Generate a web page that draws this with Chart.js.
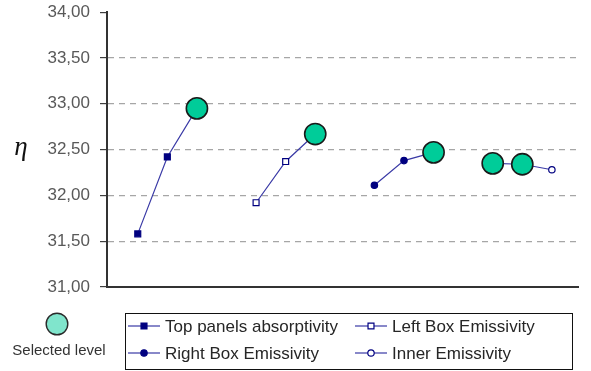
<!DOCTYPE html>
<html>
<head>
<meta charset="utf-8">
<script src="https://cdn.jsdelivr.net/npm/chart.js@4/dist/chart.umd.min.js"></script>
<style>
  html, body { margin: 0; padding: 0; background: #fff; }
  #wrap { position: relative; width: 591px; height: 371px; }
</style>
</head>
<body>
<div id="wrap"><canvas id="c" width="591" height="371"></canvas></div>
<script>
// Efficiency (eta) for three levels of each factor
const seriesNames = ['Top panels absorptivity', 'Left Box Emissivity', 'Right Box Emissivity', 'Inner Emissivity'];
const topPanels = [31.58, 32.42, 32.95];
const leftBox   = [31.92, 32.37, 32.67];
const rightBox  = [32.11, 32.38, 32.47];
const inner     = [32.35, 32.34, 32.28];

// which level of each factor is the selected one
const topPanelsSel = [false, false, true];
const leftBoxSel   = [false, false, true];
const rightBoxSel  = [false, false, true];
const innerSel     = [true, true, false];

const yTicks = [31.0, 31.5, 32.0, 32.5, 33.0, 33.5, 34.0];
const selectedLabel = 'Selected level';
const axisSymbol = 'η';

const seriesValues = [topPanels, leftBox, rightBox, inner];
const seriesSel = [topPanelsSel, leftBoxSel, rightBoxSel, innerSel];

const NAVY = '#000080';
const LINE = '#3a3aa6';
const GREEN = '#00cc99';
const markerStyles = [
  { shape: 'rect',   fill: NAVY,   r: 4.2 },
  { shape: 'rect',   fill: '#fff', r: 4.2 },
  { shape: 'circle', fill: NAVY,   r: 3.2 },
  { shape: 'circle', fill: '#fff', r: 3.2 }
];

// each factor gets its own group of three slots, with one empty slot between groups
const levelsPerGroup = 3;
const datasets = seriesValues.map((vals, g) => {
  const sel = seriesSel[g];
  const m = markerStyles[g];
  return {
    label: seriesNames[g],
    data: vals.map((v, i) => ({ x: g * (levelsPerGroup + 1) + i + 1, y: v })),
    borderColor: LINE,
    borderWidth: 1.2,
    tension: 0,
    fill: false,
    pointStyle: c => sel[c.dataIndex] ? 'circle' : m.shape,
    pointRadius: c => sel[c.dataIndex] ? 10.6 : m.r,
    pointBackgroundColor: c => sel[c.dataIndex] ? GREEN : m.fill,
    pointBorderColor: c => sel[c.dataIndex] ? '#1a1a1a' : NAVY,
    pointBorderWidth: c => sel[c.dataIndex] ? 1.6 : 1.2,
    markerShape: m.shape,
    markerFill: m.fill
  };
});

const fmt = v => v.toFixed(2).replace('.', ',');

// legend box, the selected-level key and the eta label
const extras = {
  id: 'extras',
  afterDraw(chart) {
    const ctx = chart.ctx;
    const helpers = Chart.helpers;
    ctx.save();

    // eta symbol beside the value axis
    ctx.fillStyle = '#111';
    ctx.font = 'italic 27px "Liberation Serif", "DejaVu Serif", serif';
    ctx.textAlign = 'center';
    ctx.textBaseline = 'middle';
    ctx.fillText(axisSymbol, 21, 148);

    // key for the selected level
    ctx.beginPath();
    ctx.arc(57, 324, 10.8, 0, Math.PI * 2);
    ctx.fillStyle = '#80e5cc';
    ctx.fill();
    ctx.lineWidth = 1.4;
    ctx.strokeStyle = '#2a2a2a';
    ctx.stroke();
    ctx.fillStyle = '#333';
    ctx.font = '15px "Liberation Sans", Arial, sans-serif';
    ctx.fillText(selectedLabel, 59, 351);

    // series legend
    ctx.strokeStyle = '#111';
    ctx.lineWidth = 1;
    ctx.strokeRect(125.5, 313.5, 447, 56);
    const slots = [[128, 326], [355, 326], [128, 353], [355, 353]];
    ctx.font = '17px "Liberation Sans", Arial, sans-serif';
    ctx.textAlign = 'left';
    chart.data.datasets.forEach((ds, i) => {
      const [x, y] = slots[i];
      ctx.beginPath();
      ctx.moveTo(x, y);
      ctx.lineTo(x + 32, y);
      ctx.strokeStyle = LINE;
      ctx.lineWidth = 1.2;
      ctx.stroke();
      ctx.fillStyle = ds.markerFill;
      ctx.strokeStyle = NAVY;
      ctx.lineWidth = 1.2;
      helpers.drawPoint(ctx, {
        pointStyle: ds.markerShape,
        radius: markerStyles[i].r,
        rotation: 0,
        borderWidth: 1.2
      }, x + 16, y);
      ctx.fillStyle = '#262626';
      ctx.textBaseline = 'middle';
      ctx.fillText(ds.label, x + 37, y + 1);
    });
    ctx.restore();
  }
};

new Chart(document.getElementById('c'), {
  type: 'line',
  data: { datasets },
  options: {
    responsive: false,
    animation: false,
    events: [],
    layout: { padding: { top: 10, right: 0, bottom: 0, left: 0 } },
    plugins: { legend: { display: false }, tooltip: { enabled: false } },
    scales: {
      x: {
        type: 'linear',
        min: -0.04,
        max: 15.91,
        ticks: { display: false },
        grid: { display: false },
        border: { display: true, color: '#333', width: 2 },
        afterFit: s => { s.height = 84; s.paddingLeft = 0; s.paddingRight = 0; }
      },
      y: {
        type: 'linear',
        min: yTicks[0],
        max: yTicks[yTicks.length - 1],
        afterBuildTicks: s => { s.ticks = yTicks.map(v => ({ value: v })); },
        ticks: {
          color: '#595959',
          padding: 10,
          font: { family: '"Liberation Sans", Arial, sans-serif', size: 17 },
          callback: v => fmt(v)
        },
        grid: {
          color: c => (c.tick && (c.tick.value === yTicks[0] || c.tick.value === yTicks[yTicks.length - 1])) ? 'rgba(0,0,0,0)' : '#a6a6a6',
          lineWidth: 1.2,
          tickColor: '#404040',
          tickLength: 7,
          tickWidth: 1.2
        },
        border: { display: true, color: '#333', width: 2, dash: [6, 5] },
        afterFit: s => { s.width = 107; s.paddingTop = 0; s.paddingBottom = 0; }
      }
    }
  },
  plugins: [extras]
});
</script>
</body>
</html>
